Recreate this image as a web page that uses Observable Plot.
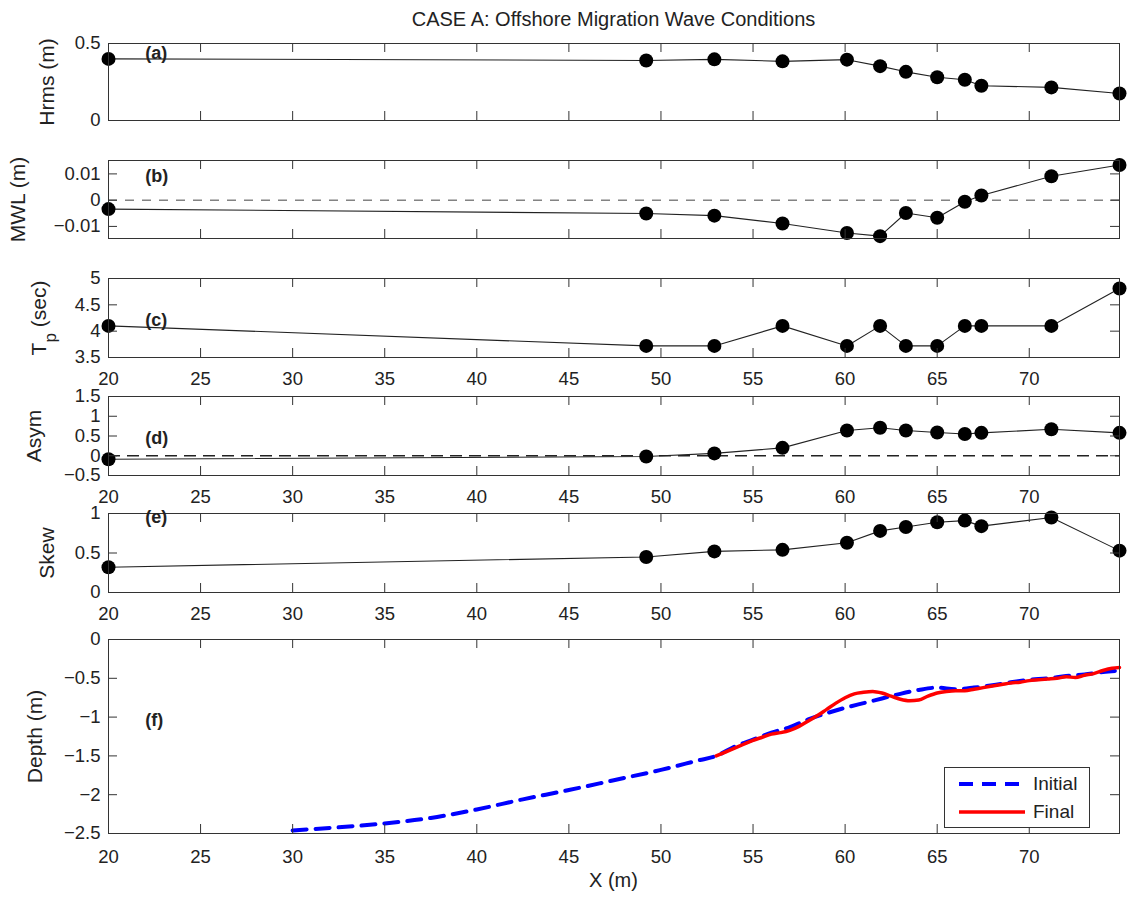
<!DOCTYPE html>
<html><head><meta charset="utf-8">
<script src="https://cdn.jsdelivr.net/npm/d3@7"></script>
<script src="https://cdn.jsdelivr.net/npm/@observablehq/plot@0.6"></script>
<style>
body{margin:0;background:#fff;}
#fig{position:relative;width:1128px;height:899px;font-family:"Liberation Sans",Arial,Helvetica,sans-serif;color:#222;overflow:hidden;background:#fff}
#fig svg{position:absolute;left:0}
</style></head><body><div id="fig"></div>
<script>
// ---------- data ----------
const titleText = "CASE A: Offshore Migration Wave Conditions";
const xAxisLabel = "X (m)";
const stationX = [20, 49.2, 52.9, 56.6, 60.1, 61.9, 63.3, 65.0, 66.5, 67.4, 71.2, 74.9];
const hrms = [0.400, 0.390, 0.397, 0.384, 0.395, 0.353, 0.316, 0.281, 0.265, 0.226, 0.215, 0.175];
const mwl  = [-0.0034, -0.0051, -0.0059, -0.0089, -0.0125, -0.0137, -0.0049, -0.0067, -0.0006, 0.0018, 0.0091, 0.0134];
const tp   = [4.10, 3.72, 3.72, 4.10, 3.72, 4.10, 3.72, 3.72, 4.10, 4.10, 4.10, 4.81];
const asym = [-0.09, -0.02, 0.06, 0.20, 0.64, 0.71, 0.64, 0.59, 0.55, 0.58, 0.67, 0.58];
const skew = [0.32, 0.45, 0.52, 0.54, 0.63, 0.78, 0.83, 0.89, 0.91, 0.84, 0.95, 0.53];

const initialX     = [30, 32.5, 35, 37.5, 40, 42.5, 45, 47.5, 50, 52, 53, 54, 55, 56, 57, 58, 59, 60, 61, 62, 63, 64, 65, 66, 67, 68, 69, 70, 71, 72, 73, 74, 74.9];
const initialDepth = [-2.46, -2.42, -2.37, -2.30, -2.19, -2.06, -1.94, -1.81, -1.68, -1.56, -1.50, -1.38, -1.29, -1.20, -1.13, -1.03, -0.95, -0.88, -0.82, -0.76, -0.70, -0.65, -0.62, -0.64, -0.62, -0.59, -0.55, -0.52, -0.50, -0.47, -0.45, -0.42, -0.40];
const finalX       = [53, 53.5, 54, 54.5, 55, 55.5, 56, 56.5, 57, 57.5, 58, 58.5, 59, 59.5, 60, 60.5, 61, 61.5, 62, 62.5, 63, 63.5, 64, 64.5, 65, 65.5, 66, 66.5, 67, 67.5, 68, 68.5, 69, 69.5, 70, 70.5, 71, 71.5, 72, 72.5, 73, 73.5, 74, 74.5, 74.9];
const finalDepth   = [-1.50, -1.45, -1.40, -1.35, -1.30, -1.26, -1.22, -1.20, -1.17, -1.12, -1.05, -0.98, -0.90, -0.82, -0.75, -0.70, -0.68, -0.67, -0.69, -0.73, -0.77, -0.79, -0.78, -0.73, -0.69, -0.67, -0.66, -0.66, -0.64, -0.62, -0.60, -0.58, -0.56, -0.55, -0.53, -0.52, -0.51, -0.50, -0.48, -0.49, -0.46, -0.44, -0.40, -0.37, -0.36];

const xDomain = [20, 74.9];
const xTicks = [20, 25, 30, 35, 40, 45, 50, 55, 60, 65, 70];
const yLabels = ["Hrms (m)", "MWL (m)", "Tp (sec)", "Asym", "Skew", "Depth (m)"];
const panelTags = ["(a)", "(b)", "(c)", "(d)", "(e)", "(f)"];
const tagX = 22;
const tagY = [0.435, 0.009, 4.2, 0.45, 0.955, -1.04];
const yDomains = [[0, 0.5], [-0.0146, 0.0151], [3.5, 5], [-0.5, 1.5], [0, 1], [-2.5, 0]];
const yTicksList = [[0, 0.5], [-0.01, 0, 0.01], [3.5, 4, 4.5, 5], [-0.5, 0, 0.5, 1, 1.5], [0, 0.5, 1], [-2.5, -2, -1.5, -1, -0.5, 0]];
const legendLabels = ["Initial", "Final"];

// ---------- layout ----------
const W = 1128, ML = 108, MR = 9;
const FONT = '"Liberation Sans", Arial, Helvetica, sans-serif';
const fig = document.getElementById("fig");
const fmt = d => d < 0 ? "\u2212" + String(-d) : String(d);
const ink = "#222";

const layout = [
  {top: 43,  bottom: 120, xLabels: false, labX: 47},
  {top: 160, bottom: 238, xLabels: false, labX: 18},
  {top: 278, bottom: 357, xLabels: true, xPad: 14, labX: 39},
  {top: 396, bottom: 475, xLabels: true, xPad: 14, labX: 34},
  {top: 513, bottom: 592, xLabels: true, xPad: 14, labX: 47},
  {top: 639, bottom: 833, xLabels: true, xPad: 16, labX: 35}
];

const seriesList = [hrms, mwl, tp, asym, skew];

function makePanel(i, dataMarks) {
  const L = layout[i];
  const mt = 12, mb = L.xLabels ? 40 : 12;
  const h = L.bottom - L.top;
  const innerW = W - ML - MR;
  const yTicks = yTicksList[i];
  const marks = [
    ...dataMarks,
    Plot.frame({stroke: "#333", strokeWidth: 1}),
    Plot.tickX(xTicks, {x: d => d, insetTop: h - 9, stroke: "#333"}),
    Plot.tickX(xTicks, {x: d => d, insetBottom: h - 9, stroke: "#333"}),
    Plot.tickY(yTicks, {y: d => d, insetRight: innerW - 9, stroke: "#333"}),
    Plot.tickY(yTicks, {y: d => d, insetLeft: innerW - 9, stroke: "#333"}),
    Plot.axisY({ticks: yTicks, tickSize: 0, tickPadding: 8, tickFormat: fmt, fontSize: 18.5, label: null}),
    Plot.text([yLabels[i]], {text: d => d, frameAnchor: "left", dx: -(ML - L.labX), rotate: -90, fontSize: 21, fill: ink, textAnchor: "middle", lineAnchor: "middle"}),
    Plot.text([panelTags[i]], {text: d => d, x: () => tagX, y: () => tagY[i], textAnchor: "start", lineAnchor: "middle", fontWeight: "bold", fontSize: 18, fill: ink})
  ];
  if (L.xLabels) marks.push(Plot.axisX({ticks: xTicks, tickSize: 0, tickPadding: L.xPad, tickFormat: fmt, fontSize: 18.5, label: null}));
  const svg = Plot.plot({
    width: W, height: h + mt + mb,
    marginLeft: ML, marginRight: MR, marginTop: mt, marginBottom: mb,
    x: {type: "linear", domain: xDomain, axis: null},
    y: {type: "linear", domain: yDomains[i], axis: null},
    style: {background: "transparent", overflow: "visible", fontFamily: FONT, color: ink},
    marks
  });
  svg.style.top = (L.top - mt) + "px";
  svg.style.left = "0px";
  svg.style.position = "absolute";
  svg.style.overflow = "visible";
  // subscript for T_p
  svg.querySelectorAll("text").forEach(t => {
    if (t.textContent === "Tp (sec)") {
      t.innerHTML = 'T<tspan baseline-shift="sub" font-size="17">p</tspan><tspan> (sec)</tspan>';
    }
  });
  fig.appendChild(svg);
}

for (let i = 0; i < 5; i++) {
  const rows = stationX.map((x, k) => ({x, y: seriesList[i][k]}));
  const m = [];
  if (i === 1) m.push(Plot.ruleY([0], {stroke: "#444", strokeWidth: 1, strokeDasharray: "9,8"}));
  if (i === 3) m.push(Plot.ruleY([0], {stroke: "#222", strokeWidth: 1.5, strokeDasharray: "12,7"}));
  m.push(Plot.line(rows, {x: "x", y: "y", stroke: ink, strokeWidth: 1.1}));
  m.push(Plot.dot(rows, {x: "x", y: "y", r: 7, fill: "black", stroke: "none"}));
  makePanel(i, m);
}

const initRows = initialX.map((x, k) => ({x, y: initialDepth[k]}));
const finalRows = finalX.map((x, k) => ({x, y: finalDepth[k]}));
makePanel(5, [
  Plot.line(initRows, {x: "x", y: "y", stroke: "#0000ff", strokeWidth: 4, strokeDasharray: "14,9", curve: "monotone-x"}),
  Plot.line(finalRows, {x: "x", y: "y", stroke: "#ff0000", strokeWidth: 3.5, curve: "monotone-x"})
]);

// title
const title = document.createElement("div");
title.textContent = titleText;
Object.assign(title.style, {position: "absolute", left: ML + "px", width: (W - ML - MR) + "px", top: "9px", textAlign: "center", fontSize: "20px", lineHeight: "20px", color: ink});
fig.appendChild(title);

// x label
const xl = document.createElement("div");
xl.textContent = xAxisLabel;
Object.assign(xl.style, {position: "absolute", left: ML + "px", width: (W - ML - MR) + "px", top: "870px", textAlign: "center", fontSize: "20px", lineHeight: "20px", color: ink});
fig.appendChild(xl);

// legend
const lg = document.createElement("div");
Object.assign(lg.style, {position: "absolute", left: "944px", top: "767px", width: "146px", height: "61px", border: "1px solid #333", background: "#fff", boxSizing: "border-box"});
const styles = [{stroke: "#0000ff", dash: "14,9", w: 4}, {stroke: "#ff0000", dash: null, w: 3.5}];
legendLabels.forEach((lab, k) => {
  const row = document.createElement("div");
  Object.assign(row.style, {position: "absolute", left: "0px", top: (k === 0 ? 4 : 32) + "px", height: "24px", width: "144px"});
  row.innerHTML = `<svg width="70" height="24" style="position:absolute;left:12px;top:0;overflow:visible"><line x1="2" x2="68" y1="12" y2="12" stroke="${styles[k].stroke}" stroke-width="${styles[k].w}" ${styles[k].dash ? `stroke-dasharray="${styles[k].dash}"` : ""}/></svg><span style="position:absolute;left:88px;top:1px;font-size:19px;line-height:22px;color:${ink}">${lab}</span>`;
  lg.appendChild(row);
});
fig.appendChild(lg);
</script></body></html>
